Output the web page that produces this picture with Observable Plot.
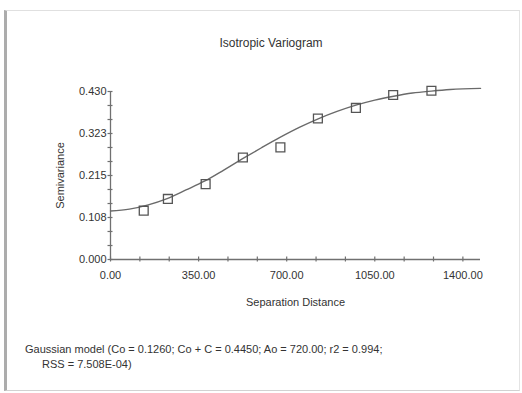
<!DOCTYPE html>
<html><head><meta charset="utf-8">
<script src="https://cdn.jsdelivr.net/npm/d3@7"></script>
<script src="https://cdn.jsdelivr.net/npm/@observablehq/plot@0.6"></script>
<style>
body{margin:0;background:#fff;font-family:"Liberation Sans",Arial,sans-serif;color:#333;}
#wrap{position:relative;width:522px;height:393px;overflow:hidden;background:#fff;}
#frame{position:absolute;left:4px;top:10px;width:516px;height:381px;box-sizing:border-box;border-top:1px solid #e0e0e0;border-right:1px solid #e4e4e4;border-bottom:1px solid #d2d2d2;border-left:3px solid #acacac;}
#chart{position:absolute;left:0;top:0;}
#title{position:absolute;left:0;top:36px;width:542px;text-align:center;font-size:12px;line-height:14px;}
.cap{position:absolute;font-size:11px;line-height:15px;white-space:nowrap;}
</style>
</head><body>
<div id="wrap">
  <div id="frame"></div>
  <div id="chart"></div>
  <div id="title"></div>
  <div class="cap" id="cap1" style="left:25px;top:342px;"></div>
  <div class="cap" id="cap2" style="left:42px;top:357px;"></div>
</div>
<script>
// ---- data ----
const titleText = "Isotropic Variogram";
const xLabel = "Separation Distance";
const yLabel = "Semivariance";
const captionLine1 = "Gaussian model (Co = 0.1260; Co + C = 0.4450; Ao = 720.00; r2 = 0.994;";
const captionLine2 = "RSS = 7.508E-04)";

const lagDistance = [132, 228, 378, 526, 675, 824, 975, 1123, 1275];
const semivariance = [0.125, 0.155, 0.193, 0.261, 0.287, 0.361, 0.388, 0.421, 0.432];

const modelDistance = [0, 75, 150, 225, 300, 375, 450, 525, 600, 675, 750, 825, 900, 975, 1050, 1125, 1200, 1275, 1350, 1470];
const modelSemivariance = [0.124, 0.129, 0.140, 0.156, 0.178, 0.201, 0.229, 0.258, 0.286, 0.313, 0.338, 0.360, 0.379, 0.395, 0.408, 0.418, 0.426, 0.431, 0.435, 0.438];

const xTicks = [0, 350, 700, 1050, 1400];
const xTickLabels = ["0.00", "350.00", "700.00", "1050.00", "1400.00"];
const xMinorTicks = [0, 116.7, 233.3, 350, 466.7, 583.3, 700, 816.7, 933.3, 1050, 1166.7, 1283.3, 1400];
const yTicks = [0, 0.1075, 0.215, 0.3225, 0.43];
const yTickLabels = ["0.000", "0.108", "0.215", "0.323", "0.430"];
const yMinorTicks = [0, 0.0358, 0.0717, 0.1075, 0.1433, 0.1792, 0.215, 0.2508, 0.2867, 0.3225, 0.3583, 0.3942, 0.43];

// ---- tables built from the arrays ----
const points = lagDistance.map((d, i) => ({x: d, y: semivariance[i]}));
const model = modelDistance.map((d, i) => ({x: d, y: modelSemivariance[i]}));

const axisColor = "#707070";
const chart = Plot.plot({
  width: 522,
  height: 320,
  marginLeft: 110,
  marginRight: 42,
  marginTop: 91,
  marginBottom: 61,
  style: {fontFamily: "Liberation Sans, Arial, sans-serif", fontSize: "11px", color: "#333", background: "transparent"},
  x: {domain: [0, 1470]},
  y: {domain: [0, 0.43]},
  marks: [
    Plot.ruleY([0], {stroke: axisColor, strokeWidth: 1.3}),
    Plot.ruleX([0], {stroke: axisColor, strokeWidth: 1.3}),
    Plot.axisX({ticks: xMinorTicks, tickSize: 5, dy: -2.5, tickFormat: () => "", label: null, stroke: axisColor, strokeWidth: 1.2}),
    Plot.axisY({ticks: yMinorTicks, tickSize: 5, dx: 2.5, tickFormat: () => "", label: null, stroke: axisColor, strokeWidth: 1.2}),
    Plot.axisX({ticks: xTicks, tickSize: 0, tickPadding: 12, tickFormat: d => xTickLabels[xTicks.indexOf(d)],
      label: xLabel, labelAnchor: "center", labelOffset: 46, labelArrow: "none", fill: "#333"}),
    Plot.axisY({ticks: yTicks, tickSize: 0, tickPadding: 4, tickFormat: d => yTickLabels[yTicks.indexOf(d)],
      label: yLabel, labelAnchor: "center", labelOffset: 54, labelArrow: "none", fill: "#333"}),
    Plot.line(model, {x: "x", y: "y", curve: "monotone-x", stroke: "#6a6a6a", strokeWidth: 1.4}),
    Plot.dot(points, {x: "x", y: "y", symbol: "square", r: 5, stroke: "#555", fill: "none", strokeWidth: 1.3})
  ]
});
document.getElementById("chart").appendChild(chart);
document.getElementById("title").textContent = titleText;
document.getElementById("cap1").textContent = captionLine1;
document.getElementById("cap2").textContent = captionLine2;
</script>
</body></html>
